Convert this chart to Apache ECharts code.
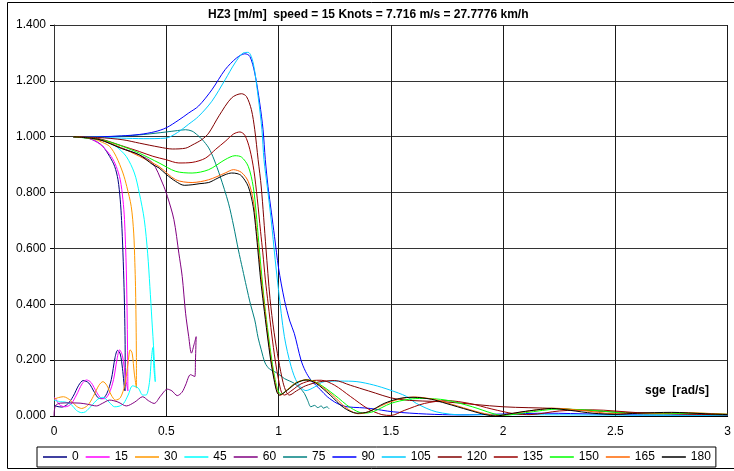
<!DOCTYPE html>
<html>
<head>
<meta charset="utf-8">
<script src="https://cdn.jsdelivr.net/npm/echarts@6/dist/echarts.min.js"></script>
<style>
  html, body { margin: 0; padding: 0; background: #fff; }
  #chart { width: 734px; height: 471px; }
</style>
</head>
<body>
<div id="chart"></div>
<script>
// Heave RAO (HZ3) versus encounter frequency, one curve per wave heading (deg)
const headings = [0, 15, 30, 45, 60, 75, 90, 105, 120, 135, 150, 165, 180];
const colors = ['#000080', '#FF00FF', '#FF9900', '#00FFFF', '#800080', '#008080', '#0000FF',
                '#00CCFF', '#800000', '#990000', '#00FF00', '#FF6600', '#000000'];
const xTicks = ['0', '0.5', '1', '1.5', '2', '2.5', '3'];
const yTicks = ['0.000', '0.200', '0.400', '0.600', '0.800', '1.000', '1.200', '1.400'];

// [encounter frequency (rad/s), RAO (m/m)] in computation order
const rao0 = [[0.086,1.0],[0.15,0.995],[0.19,0.982],[0.218,0.965],[0.248,0.929],[0.27,0.894],[0.285,0.846],
  [0.295,0.774],[0.301,0.70],[0.307,0.584],[0.312,0.46],[0.315,0.35],[0.317,0.226],[0.317,0.12],[0.316,0.09],
  [0.305,0.17],[0.295,0.222],[0.283,0.235],[0.272,0.21],[0.255,0.13],[0.235,0.08],[0.215,0.062],[0.2,0.063],
  [0.18,0.085],[0.155,0.118],[0.13,0.127],[0.11,0.11],[0.085,0.07],[0.06,0.042],[0.035,0.032],[0.01,0.035],[0.0,0.04]];
const rao15 = [[0.086,1.0],[0.16,0.993],[0.21,0.97],[0.255,0.929],[0.277,0.894],[0.295,0.846],[0.307,0.774],
  [0.314,0.703],[0.322,0.523],[0.326,0.344],[0.328,0.2],[0.329,0.09],[0.32,0.13],[0.305,0.215],[0.292,0.237],
  [0.28,0.2],[0.265,0.13],[0.245,0.08],[0.225,0.062],[0.211,0.063],[0.19,0.085],[0.165,0.12],[0.145,0.129],
  [0.125,0.115],[0.1,0.075],[0.075,0.042],[0.05,0.033],[0.025,0.04],[0.005,0.064],[0.0,0.066]];
const rao30 = [[0.086,1.0],[0.17,0.993],[0.215,0.98],[0.248,0.965],[0.277,0.929],[0.307,0.87],[0.324,0.822],
  [0.344,0.75],[0.355,0.655],[0.36,0.55],[0.363,0.463],[0.366,0.3],[0.367,0.18],[0.367,0.1],[0.358,0.15],
  [0.348,0.225],[0.339,0.237],[0.33,0.19],[0.315,0.11],[0.295,0.065],[0.274,0.057],[0.255,0.075],[0.235,0.11],
  [0.218,0.123],[0.2,0.11],[0.175,0.07],[0.15,0.038],[0.123,0.027],[0.1,0.035],[0.075,0.055],[0.042,0.069],
  [0.02,0.066],[0.0,0.06]];
const rao45 = [[0.086,1.0],[0.2,0.99],[0.25,0.975],[0.277,0.965],[0.322,0.929],[0.358,0.87],[0.38,0.798],
  [0.402,0.703],[0.417,0.583],[0.427,0.463],[0.436,0.344],[0.445,0.225],[0.451,0.123],[0.445,0.17],[0.44,0.245],
  [0.433,0.2],[0.425,0.12],[0.41,0.075],[0.395,0.075],[0.375,0.1],[0.35,0.108],[0.33,0.075],[0.31,0.045],
  [0.29,0.035],[0.27,0.033],[0.245,0.05],[0.218,0.067],[0.195,0.06],[0.165,0.035],[0.14,0.015],[0.123,0.012],
  [0.1,0.02],[0.079,0.039],[0.05,0.05],[0.028,0.051],[0.0,0.057]];
const rao60 = [[0.086,1.0],[0.2,0.99],[0.3,0.96],[0.38,0.935],[0.439,0.906],[0.483,0.834],[0.505,0.786],
  [0.534,0.703],[0.556,0.583],[0.571,0.499],[0.586,0.368],[0.6,0.284],[0.612,0.225],[0.625,0.26],[0.633,0.284],
  [0.63,0.2],[0.627,0.141],[0.608,0.148],[0.586,0.111],[0.57,0.085],[0.549,0.073],[0.525,0.09],[0.505,0.096],
  [0.475,0.072],[0.446,0.045],[0.42,0.055],[0.395,0.069],[0.36,0.05],[0.322,0.036],[0.285,0.05],[0.248,0.057],
  [0.215,0.045],[0.189,0.036],[0.15,0.042],[0.116,0.046],[0.07,0.047],[0.028,0.046],[0.006,0.036],[0.0,0.0]];
const rao75 = [[0.086,1.0],[0.2,1.0],[0.3,1.002],[0.4,1.008],[0.5,1.017],[0.55,1.022],[0.586,1.025],[0.615,1.02],
  [0.64,1.005],[0.66,0.99],[0.689,0.96],[0.712,0.92],[0.74,0.858],[0.777,0.762],[0.8,0.68],[0.821,0.595],
  [0.84,0.525],[0.857,0.463],[0.875,0.4],[0.894,0.344],[0.909,0.28],[0.923,0.237],[0.94,0.19],[0.96,0.168],
  [0.982,0.159],[1.0,0.15],[1.026,0.134],[1.05,0.125],[1.07,0.117],[1.095,0.1],[1.115,0.081],[1.13,0.055],
  [1.144,0.033],[1.16,0.038],[1.175,0.03],[1.19,0.036],[1.2,0.028],[1.215,0.033],[1.225,0.026]];
const rao90 = [[0.086,1.0],[0.2,1.0],[0.3,1.003],[0.38,1.008],[0.45,1.018],[0.5,1.032],[0.556,1.06],[0.6,1.085],
  [0.644,1.11],[0.703,1.168],[0.762,1.24],[0.813,1.282],[0.85,1.297],[0.872,1.288],[0.894,1.228],[0.916,1.121],
  [0.931,1.025],[0.941,0.918],[0.953,0.822],[0.968,0.73],[0.982,0.643],[1.0,0.53],[1.026,0.416],[1.05,0.34],
  [1.07,0.296],[1.1,0.2],[1.12,0.16],[1.144,0.129],[1.188,0.093],[1.217,0.069],[1.261,0.045],[1.305,0.033],
  [1.36,0.03],[1.408,0.027],[1.511,0.015],[1.658,0.007],[1.804,0.004],[2.0,0.007],[2.2,0.01],[2.4,0.007],
  [2.6,0.004],[3.0,0.003]];
const rao105 = [[0.086,1.0],[0.2,0.998],[0.3,0.995],[0.4,0.993],[0.498,0.995],[0.55,1.015],[0.6,1.045],
  [0.644,1.073],[0.703,1.127],[0.762,1.204],[0.806,1.264],[0.843,1.3],[0.865,1.302],[0.887,1.264],[0.909,1.144],
  [0.926,1.025],[0.935,0.918],[0.95,0.82],[0.967,0.703],[0.985,0.56],[1.0,0.45],[1.026,0.284],[1.056,0.177],
  [1.085,0.117],[1.122,0.091],[1.159,0.103],[1.203,0.123],[1.276,0.125],[1.349,0.123],[1.423,0.111],
  [1.496,0.093],[1.57,0.07],[1.614,0.045],[1.702,0.015],[1.819,0.004],[2.0,0.005],[2.5,0.003],[3.0,0.002]];
const rao120 = [[0.086,1.0],[0.2,0.997],[0.307,0.989],[0.38,0.977],[0.468,0.963],[0.527,0.956],[0.586,0.959],
  [0.615,0.97],[0.659,0.99],[0.689,1.013],[0.735,1.075],[0.791,1.139],[0.835,1.154],[0.857,1.144],[0.879,1.097],
  [0.894,1.025],[0.909,0.918],[0.923,0.82],[0.944,0.6],[0.962,0.42],[0.98,0.3],[1.0,0.2],[1.02,0.12],
  [1.035,0.085],[1.048,0.075],[1.08,0.09],[1.12,0.108],[1.18,0.122],[1.25,0.127],[1.32,0.11],[1.4,0.09],
  [1.53,0.06],[1.75,0.05],[2.0,0.033],[2.23,0.027],[2.48,0.015],[2.75,0.008],[3.0,0.004]];
const rao135 = [[0.086,1.0],[0.2,0.993],[0.3,0.968],[0.38,0.947],[0.44,0.93],[0.498,0.918],[0.556,0.906],
  [0.615,0.908],[0.674,0.923],[0.72,0.955],[0.762,0.983],[0.8,1.01],[0.828,1.017],[0.85,1.005],[0.872,0.955],
  [0.89,0.88],[0.905,0.78],[0.92,0.66],[0.93,0.584],[0.941,0.49],[0.954,0.40],[0.97,0.29],[0.985,0.2],
  [1.0,0.13],[1.013,0.085],[1.026,0.075],[1.06,0.092],[1.1,0.115],[1.15,0.127],[1.19,0.128],[1.25,0.11],
  [1.32,0.07],[1.4,0.025],[1.46,0.005],[1.5,0.002],[1.56,0.02],[1.65,0.045],[1.75,0.055],[1.85,0.045],
  [1.95,0.025],[2.05,0.008],[2.12,0.005],[2.25,0.018],[2.4,0.022],[2.6,0.012],[2.8,0.008],[3.0,0.006]];
const rao150 = [[0.086,1.0],[0.2,0.99],[0.233,0.985],[0.307,0.965],[0.38,0.941],[0.468,0.906],[0.542,0.876],
  [0.615,0.87],[0.689,0.882],[0.762,0.918],[0.806,0.932],[0.835,0.927],[0.865,0.894],[0.887,0.822],[0.9,0.73],
  [0.912,0.62],[0.922,0.53],[0.938,0.40],[0.955,0.29],[0.97,0.2],[0.985,0.13],[0.998,0.09],[1.011,0.078],
  [1.04,0.095],[1.08,0.12],[1.13,0.13],[1.18,0.115],[1.25,0.075],[1.32,0.03],[1.379,0.01],[1.42,0.015],
  [1.5,0.045],[1.58,0.06],[1.643,0.063],[1.746,0.057],[1.863,0.033],[1.95,0.01],[1.996,0.002],[2.1,0.012],
  [2.25,0.025],[2.4,0.02],[2.55,0.01],[2.7,0.008],[2.85,0.01],[3.0,0.006]];
const rao165 = [[0.086,1.0],[0.2,0.99],[0.3,0.96],[0.38,0.93],[0.468,0.893],[0.542,0.846],[0.615,0.836],
  [0.689,0.846],[0.762,0.87],[0.799,0.882],[0.835,0.872],[0.865,0.84],[0.887,0.774],[0.9,0.68],[0.91,0.6],
  [0.922,0.5],[0.936,0.40],[0.952,0.29],[0.967,0.2],[0.982,0.13],[0.995,0.085],[1.007,0.074],[1.04,0.095],
  [1.08,0.12],[1.125,0.13],[1.17,0.118],[1.24,0.075],[1.3,0.03],[1.355,0.008],[1.4,0.015],[1.48,0.045],
  [1.55,0.063],[1.605,0.068],[1.7,0.058],[1.8,0.035],[1.9,0.012],[1.975,0.002],[2.05,0.01],[2.15,0.022],
  [2.22,0.028],[2.35,0.02],[2.5,0.008],[2.65,0.01],[2.8,0.012],[3.0,0.006]];
const rao180 = [[0.086,1.0],[0.2,0.99],[0.3,0.958],[0.38,0.935],[0.44,0.9],[0.468,0.888],[0.5,0.865],
  [0.542,0.84],[0.58,0.826],[0.615,0.828],[0.65,0.832],[0.689,0.836],[0.73,0.852],[0.762,0.864],[0.791,0.87],
  [0.815,0.868],[0.835,0.86],[0.865,0.822],[0.887,0.75],[0.9,0.66],[0.909,0.584],[0.92,0.49],[0.933,0.40],
  [0.95,0.29],[0.965,0.2],[0.98,0.13],[0.993,0.085],[1.004,0.075],[1.04,0.093],[1.08,0.118],[1.122,0.129],
  [1.165,0.118],[1.23,0.075],[1.29,0.03],[1.349,0.01],[1.4,0.015],[1.47,0.045],[1.54,0.063],[1.599,0.067],
  [1.68,0.06],[1.746,0.045],[1.848,0.021],[1.92,0.005],[1.966,0.0],[2.03,0.008],[2.084,0.015],[2.15,0.022],
  [2.216,0.027],[2.3,0.02],[2.4,0.01],[2.5,0.006],[2.6,0.01],[2.75,0.013],[2.9,0.008],[3.0,0.005]];

const curves = [rao0, rao15, rao30, rao45, rao60, rao75, rao90, rao105, rao120, rao135, rao150, rao165, rao180];

const FONT = '"Liberation Sans", Arial, sans-serif';
const chart = echarts.init(document.getElementById('chart'), null, { renderer: 'canvas' });

chart.setOption({
  animation: false,
  backgroundColor: '#fff',
  title: {
    text: 'HZ3 [m/m]  speed = 15 Knots = 7.716 m/s = 27.7776 km/h',
    left: 203, top: 4,
    textStyle: { fontFamily: FONT, fontSize: 12, fontWeight: 'bold', color: '#000' }
  },
  grid: { left: 54, right: 0, top: 25, bottom: 55, containLabel: false },
  xAxis: {
    type: 'value', min: 0, max: 3, interval: 0.5,
    axisLine: { show: true, onZero: false, lineStyle: { color: '#000', width: 1 } },
    axisTick: { show: false },
    axisLabel: {
      fontFamily: FONT, fontSize: 12, color: '#000', margin: 10, showMaxLabel: true,
      formatter: v => xTicks[Math.round(v / 0.5)]
    },
    splitLine: { show: true, lineStyle: { color: '#1a1a1a', width: 1 } }
  },
  yAxis: {
    type: 'value', min: 0, max: 1.4, interval: 0.2,
    axisLine: { show: true, lineStyle: { color: '#333', width: 1 } },
    axisTick: { show: true, inside: false, length: 4, lineStyle: { color: '#000' } },
    axisLabel: {
      fontFamily: FONT, fontSize: 12, color: '#000', margin: 8,
      formatter: v => yTicks[Math.round(v / 0.2)]
    },
    splitLine: { show: true, lineStyle: { color: '#333', width: 1 } }
  },
  legend: {
    left: 37, top: 447,
    icon: 'rect',
    itemWidth: 24, itemHeight: 1.5, itemGap: 7,
    padding: [4, 5, 4, 6],
    borderColor: '#000', borderWidth: 1,
    textStyle: { fontFamily: FONT, fontSize: 12, color: '#000' },
    data: headings.map(String)
  },
  graphic: [
    { type: 'rect', silent: true, z: -1,
      shape: { x: 7.5, y: 2.5, width: 760, height: 466 },
      style: { fill: null, stroke: '#000', lineWidth: 1 } },
    { type: 'text', left: 645, top: 385, silent: true,
      style: { text: 'sge  [rad/s]', fontFamily: FONT, fontSize: 12, fontWeight: 'bold', fill: '#000' } }
  ],
  series: headings.map((h, i) => ({
    name: String(h),
    type: 'line',
    data: curves[i],
    symbol: 'none',
    smooth: 0.3,
    clip: true,
    lineStyle: { width: 1, color: colors[i] },
    itemStyle: { color: colors[i] }
  }))
});
</script>
</body>
</html>
